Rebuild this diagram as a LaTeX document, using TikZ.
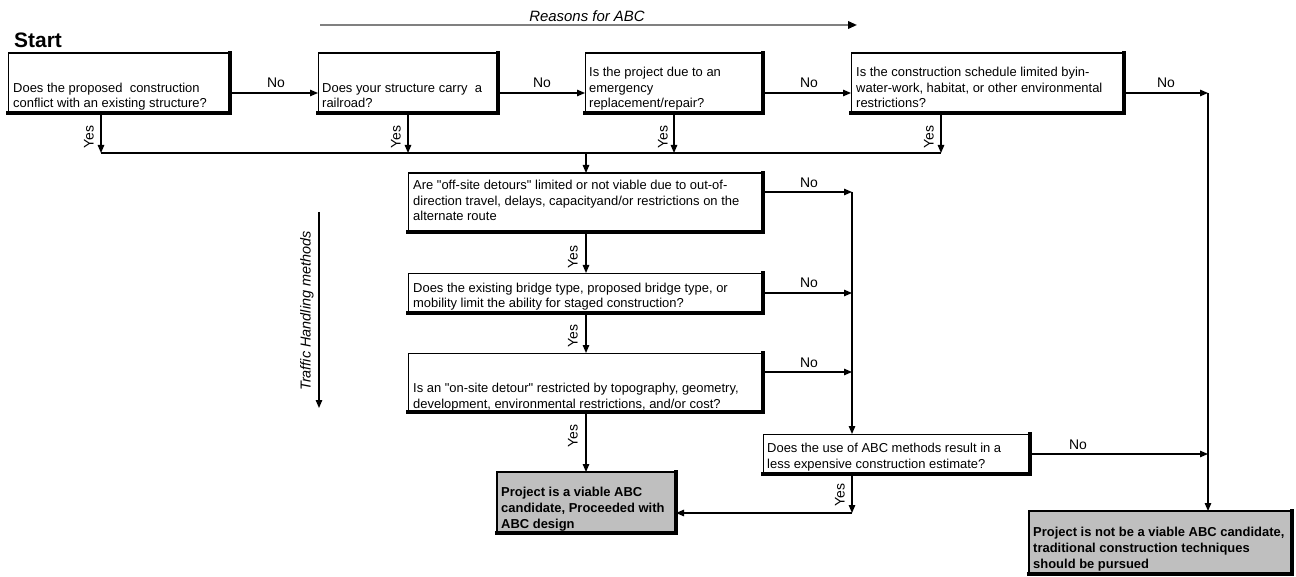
\documentclass[tikz,border=0pt]{standalone}
\usepackage{fontspec}
\setmainfont{Liberation Sans}[Ligatures=TeXOff]
\usetikzlibrary{arrows.meta}
\begin{document}
\begin{tikzpicture}[x=1bp,y=-1bp,
  box/.style={draw=black, line width=0.8bp, fill=white, inner sep=0pt, outer sep=0pt, anchor=north west},
  endbox/.style={draw=black, line width=2.5bp, fill=black!25, inner sep=0pt, outer sep=0pt, anchor=north west},
  shadowline/.style={line width=3.2bp, line cap=rect},
  topline/.style={line width=2.4bp},
  txt/.style={font=\fontsize{13}{16}\selectfont, align=left, inner sep=0pt, anchor=base west},
  btxt/.style={font=\fontsize{13}{16}\selectfont\bfseries, align=left, inner sep=0pt, anchor=base west},
  lbl/.style={font=\fontsize{14}{16}\selectfont, inner sep=0pt},
  ylbl/.style={lbl, rotate=90},
  conn/.style={line width=1.3bp},
  arr/.style={conn, -{Triangle[length=8bp,width=6.5bp]}},
]
\useasboundingbox (0,0) rectangle (1296,577);

% heading texts
\node[font=\fontsize{21}{24}\selectfont\bfseries, inner sep=0pt, anchor=west] (start) at (14,40) {Start};
\node[font=\fontsize{15}{18}\selectfont\itshape, inner sep=0pt] (reasons) at (587,16) {Reasons for ABC};
\coordinate (g1) at (320,25);
\coordinate (g2) at (857,25);
\draw[line width=2bp, draw=black!50, -{Triangle[length=9bp,width=7.5bp,color=black]}] (g1) -- (g2);

\node[font=\fontsize{14.5}{16}\selectfont\itshape, inner sep=0pt, rotate=90] (traffic) at (307,311) {Traffic Handling methods};
\coordinate (h1) at (319,212);
\coordinate (h2) at (319,408);
\draw[arr] (h1) -- (h2);

% top row boxes (text anchored at the baseline of its last line)
\node[box, minimum width=222bp, minimum height=60bp] (b1) at (8,53) {};
\node[txt] (t1) at (13,108) {Does the proposed\ \ construction\\conflict with an existing structure?};
\node[box, minimum width=180bp, minimum height=60bp] (b2) at (318,53) {};
\node[txt] (t2) at (322,108) {Does your structure carry\ \ a\\railroad?};
\node[box, minimum width=178bp, minimum height=60bp] (b3) at (585,53) {};
\node[txt] (t3) at (589,108) {Is the project due to an\\emergency\\replacement/repair?};
\node[box, minimum width=273bp, minimum height=60bp] (b4) at (851,53) {};
\node[txt] (t4) at (856,108) {Is the construction schedule limited byin-\\water-work, habitat, or other environmental\\restrictions?};

% middle column
\node[box, minimum width=355bp, minimum height=59bp] (b5) at (408,173) {};
\node[txt] (t5) at (413,221) {Are "off-site detours" limited or not viable due to out-of-\\direction travel, delays, capacityand/or restrictions on the\\alternate route};
\node[box, minimum width=355bp, minimum height=40bp] (b6) at (408,273) {};
\node[txt] (t6) at (413,308) {Does the existing bridge type, proposed bridge type, or\\mobility limit the ability for staged construction?};
\node[box, minimum width=355bp, minimum height=59bp] (b7) at (408,353) {};
\node[txt] (t7) at (413,408) {Is an "on-site detour" restricted by topography, geometry,\\development, environmental restrictions, and/or cost?};
\node[box, minimum width=267bp, minimum height=40bp] (cb) at (763,434) {};
\node[txt] (tc) at (767,468) {Does the use of ABC methods result in a\\less expensive construction estimate?};

% end boxes
\node[endbox, minimum width=179bp, minimum height=61bp] (vb) at (497,472) {};
\node[btxt] (tv) at (501,528) {Project is a viable ABC\\candidate, Proceeded with\\ABC design};
\node[endbox, minimum width=263bp, minimum height=63bp] (nv) at (1029,511) {};
\node[btxt] (tn) at (1033,568) {Project is not be a viable ABC candidate,\\traditional construction techniques\\should be pursued};

% box shadows
\foreach \n in {b1,b2,b3,b4,b5,b6,b7,cb,vb,nv}
  \draw[shadowline] (\n.north east) -- (\n.south east) -- (\n.south west);
\foreach \n in {b1,b2,b3,b4,b5}
  \draw[topline] (\n.north west) -- (\n.north east);

% top row No connectors
\coordinate (r1) at (0,93);
\coordinate (p1) at (1208,93);
\draw[arr] (b1.east |- r1) -- (b2.west |- r1);
\draw[arr] (b2.east |- r1) -- (b3.west |- r1);
\draw[arr] (b3.east |- r1) -- (b4.west |- r1);
\draw[arr] (b4.east |- r1) -- (p1);
\draw[arr] (p1) -- (nv.north -| p1);
\node[lbl] (n1) at (276,83) {No};
\node[lbl] (n2) at (542,83) {No};
\node[lbl] (n3) at (809,83) {No};
\node[lbl] (n4) at (1166,83) {No};

% Yes connectors of top row
\coordinate (j1) at (101,153);
\coordinate (j2) at (408,153);
\coordinate (j3) at (674,153);
\coordinate (j4) at (941,153);
\coordinate (j5) at (586,153);
\draw[arr] (b1.south -| j1) -- (j1);
\draw[arr] (b2.south -| j2) -- (j2);
\draw[arr] (b3.south -| j3) -- (j3);
\draw[arr] (b4.south -| j4) -- (j4);
\draw[conn] (j1) -- (j4);
\draw[arr] (j5) -- (b5.north -| j5);
\node[ylbl] (y1) at (89,137) {Yes};
\node[ylbl] (y2) at (396,137) {Yes};
\node[ylbl] (y3) at (663,137) {Yes};
\node[ylbl] (y4) at (929,137) {Yes};

% middle column Yes connectors
\draw[arr] (b5.south -| j5) -- (b6.north -| j5);
\draw[arr] (b6.south -| j5) -- (b7.north -| j5);
\draw[arr] (b7.south -| j5) -- (vb.north -| j5);
\node[ylbl] (y5) at (573,257) {Yes};
\node[ylbl] (y6) at (573,336) {Yes};
\node[ylbl] (y7) at (573,436) {Yes};

% middle column No connectors
\coordinate (m1) at (852,192);
\coordinate (m2) at (852,293);
\coordinate (m3) at (852,372);
\draw[arr] (b5.east |- m1) -- (m1);
\draw[arr] (b6.east |- m2) -- (m2);
\draw[arr] (b7.east |- m3) -- (m3);
\draw[arr] (m1) -- (cb.north -| m1);
\node[lbl] (n5) at (809,183) {No};
\node[lbl] (n6) at (809,283) {No};
\node[lbl] (n7) at (809,363) {No};

% cost box connectors
\coordinate (k1) at (852,513);
\draw[arr] (cb.south -| k1) -- (k1);
\draw[arr] (k1) -- (vb.east |- k1);
\node[ylbl] (y8) at (840,495) {Yes};
\coordinate (q1) at (1208,454);
\draw[arr] (cb.east |- q1) -- (q1);
\node[lbl] (n8) at (1078,445) {No};

\end{tikzpicture}
\end{document}
